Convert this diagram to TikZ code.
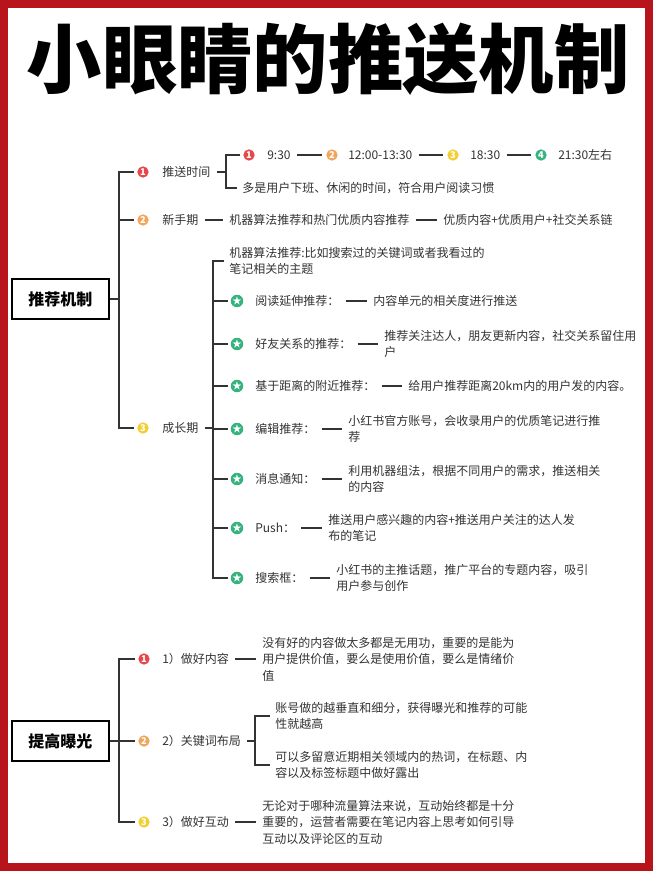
\documentclass[tikz,border=0pt]{standalone}
\usepackage{fontspec}
\setmainfont{Noto Sans CJK SC}
\usetikzlibrary{shapes.geometric}
\definecolor{framered}{HTML}{B8141C}
\definecolor{ink}{HTML}{333333}
\definecolor{dotred}{HTML}{E5474B}
\definecolor{dotorange}{HTML}{F0A55A}
\definecolor{dotyellow}{HTML}{F2CF2E}
\definecolor{dotgreen}{HTML}{36B27F}
\def\flabel#1{\fontsize{9}{12.4}\selectfont #1}

\begin{document}
\begin{tikzpicture}[x=0.75pt,y=-0.75pt,
    txt/.style={inner sep=1.5pt, anchor=west, align=left, text=ink, font=\flabel{}},
    badge/.style={circle, fill=#1, inner sep=0pt, minimum size=8.5pt, text=white, font=\fontsize{7}{7}\selectfont\bfseries},
    link/.style={draw=ink, line width=0.9pt},
    gap/.style={link, shorten <=3pt, shorten >=3pt},
    stub/.style={link, shorten >=2pt},
    branch/.style={draw=ink, line width=1.1pt, shorten <=2pt, shorten >=2pt},
    secbox/.style={draw=black, line width=1.1pt, minimum width=72.75pt, minimum height=30pt, font=\fontsize{12}{12}\selectfont\bfseries}
    ]
    \fill[white] (0,0) rectangle (653,871);
    \useasboundingbox (0,0) rectangle (653,871);
    % frame
    \draw[framered, line width=6pt] (4,4) rectangle (649,867);
    \node (title) at (328,59) {\fontsize{56.5}{56.5}\selectfont\bfseries 小眼睛的推送机制};

    % 推荐机制
    \node[secbox] (rec) at (60.5,299) {推荐机制};
    \coordinate (tk1) at (119,299);
    \node[badge=dotred] (a1) at (143,172) {1};
    \node[badge=dotorange] (a2) at (143,220) {2};
    \node[badge=dotyellow] (a3) at (143,428) {3};
    \node[txt] (la1) at (160,172) {推送时间};
    \node[txt] (la2) at (160,220) {新手期};
    \node[txt] (la3) at (160,428) {成长期};
    \draw[link] (rec.east) -- (tk1);
    \draw[branch] (a1.west) -| (tk1) |- (a3.west);
    \draw[stub] (a2.west -| tk1) -- (a2.west);

    % push times
    \coordinate (st1) at (226,172);
    \node[badge=dotred] (t1) at (249,155) {1};
    \node[txt] (tt1) at (265,155) {9:30};
    \node[badge=dotorange] (t2) at (332,155) {2};
    \node[txt] (tt2) at (346,155) {12:00-13:30};
    \node[badge=dotyellow] (t3) at (453,155) {3};
    \node[txt] (tt3) at (468,155) {18:30};
    \node[badge=dotgreen] (t4) at (541,155) {4};
    \node[txt] (tt4) at (556,155) {21:30左右};
    \node[txt] (tn) at (240,188) {多是用户下班、休闲的时间，符合用户阅读习惯};
    \draw[link, shorten <=3pt] (la1.east) -- (st1);
    \draw[branch] (t1.west) -| (st1) |- (tn.west);
    \foreach \a/\b in {tt1/t2,tt2/t3,tt3/t4}
      \draw[gap] (\a.east) -- (\b.west);

    % new users
    \node[txt] (n1) at (227,220) {机器算法推荐和热门优质内容推荐};
    \node[txt] (n2) at (441,220) {优质内容+优质用户+社交关系链};
    \draw[gap] (la2.east) -- (n1.west);
    \draw[gap] (n1.east) -- (n2.west);

    % growth
    \coordinate (st3) at (213,428);
    \node[txt] (g0) at (227,261) {机器算法推荐:比如搜索过的关键词或者我看过的\\笔记相关的主题};
    \foreach \n/\y/\lab/\dx/\txt in {
      1/301/阅读延伸推荐：/371/内容单元的相关度进行推送,
      2/344/好友关系的推荐：/382/{推荐关注达人，朋友更新内容，社交关系留住用\\户},
      3/386/基于距离的附近推荐：/406/给用户推荐距离20km内的用户发的内容。,
      4/429/编辑推荐：/346/{小红书官方账号，会收录用户的优质笔记进行推\\荐},
      5/479/消息通知：/346/{利用机器组法，根据不同用户的需求，推送相关\\的内容},
      6/528/Push：/326/{推送用户感兴趣的内容+推送用户关注的达人发\\布的笔记},
      7/578/搜索框：/334/{小红书的主推话题，推广平台的专题内容，吸引\\用户参与创作}} {
      \node[badge=dotgreen] (g\n) at (237,\y) {★};
      \node[txt] (gl\n) at (253,\y) {\lab};
      \node[txt] (gt\n) at (\dx,\y) {\txt};
      \draw[gap] (gl\n.east) -- (gt\n.west);
      \draw[stub] (g\n.west -| st3) -- (g\n.west);
    }
    \draw[link, shorten <=3pt] (la3.east) -- (st3);
    \draw[branch] (g0.west) -| (st3) |- (g7.west);

    % 提高曝光
    \node[secbox] (exp) at (60.5,741) {提高曝光};
    \coordinate (tk2) at (119,741);
    \node[badge=dotred] (b1) at (144,659) {1};
    \node[badge=dotorange] (b2) at (144,741) {2};
    \node[badge=dotyellow] (b3) at (144,822) {3};
    \node[txt] (lb1) at (160,659) {1）做好内容};
    \node[txt] (lb2) at (160,741) {2）关键词布局};
    \node[txt] (lb3) at (160,822) {3）做好互动};
    \node[txt] (bt1) at (260,659) {没有好的内容做太多都是无用功，重要的是能为\\用户提供价值，要么是使用价值，要么是情绪价\\值};
    \coordinate (st5) at (255,741);
    \node[txt] (bs1) at (273,716) {账号做的越垂直和细分，获得曝光和推荐的可能\\性就越高};
    \node[txt] (bs2) at (273,765) {可以多留意近期相关领域内的热词，在标题、内\\容以及标签标题中做好露出};
    \node[txt] (bt3) at (260,822) {无论对于哪种流量算法来说，互动始终都是十分\\重要的，运营者需要在笔记内容上思考如何引导\\互动以及评论区的互动};
    \draw[link] (exp.east) -- (tk2);
    \draw[branch] (b1.west) -| (tk2) |- (b3.west);
    \draw[stub] (b2.west -| tk2) -- (b2.west);
    \draw[gap] (lb1.east) -- (bt1.west);
    \draw[gap] (lb3.east) -- (bt3.west);
    \draw[link, shorten <=3pt] (lb2.east) -- (st5);
    \draw[branch] (bs1.west) -| (st5) |- (bs2.west);
\end{tikzpicture}
\end{document}
